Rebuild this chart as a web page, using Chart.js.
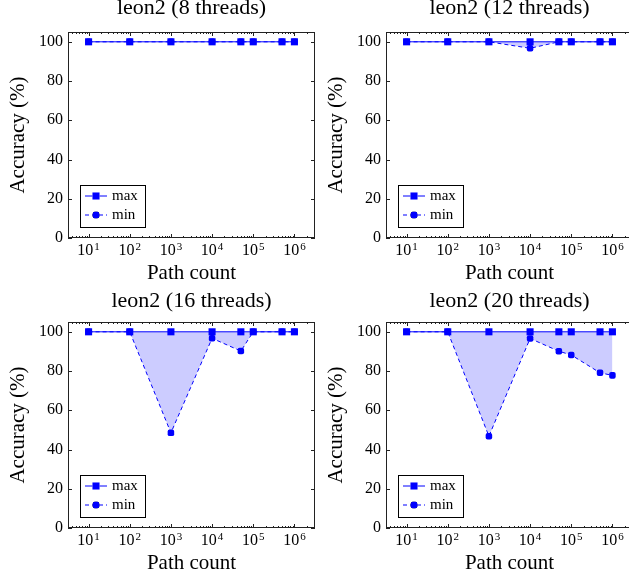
<!DOCTYPE html>
<html>
<head>
<meta charset="utf-8">
<script src="https://cdn.jsdelivr.net/npm/chart.js@4.4.1/dist/chart.umd.min.js"></script>
<style>
  html, body { margin: 0; padding: 0; overflow: hidden; background: #fff; }
  body { width: 629px; height: 579px; position: relative; }
  .panel { position: absolute; width: 320px; height: 290px; }
</style>
</head>
<body>
<div class="panel" style="left:0;top:0"><canvas id="c8" width="320" height="290"></canvas></div>
<div class="panel" style="left:318px;top:0"><canvas id="c12" width="320" height="290"></canvas></div>
<div class="panel" style="left:0;top:290px"><canvas id="c16" width="320" height="290"></canvas></div>
<div class="panel" style="left:318px;top:290px"><canvas id="c20" width="320" height="290"></canvas></div>
<script>
// data
const pathCounts = [10, 100, 1000, 10000, 50000, 100000, 500000, 1000000];

const max8  = [100, 100, 100, 100, 100, 100, 100, 100];
const min8  = [100, 100, 100, 100, 100, 100, 100, 100];
const max12 = [100, 100, 100, 100, 100, 100, 100, 100];
const min12 = [100, 100, 100, 96.7, 100, 100, 100, 100];
const max16 = [100, 100, 100, 100, 100, 100, 100, 100];
const min16 = [100, 100, 48.5, 96.7, 90.2, 100, 100, 100];
const max20 = [100, 100, 100, 100, 100, 100, 100, 100];
const min20 = [100, 100, 46.8, 96.6, 90.1, 88.2, 79.1, 77.8];

const yTicks = [0, 20, 40, 60, 80, 100];
const xTicks = [10, 100, 1000, 10000, 100000, 1000000];
const xTickExp = ['1', '2', '3', '4', '5', '6'];

const BLUE = '#0000ff';
const FILL = 'rgba(0, 0, 255, 0.2)';
const AXIS = '#222';
const FONT = "'Liberation Serif', 'Times New Roman', serif";

Chart.defaults.color = '#000';
Chart.defaults.font.family = FONT;

// pgfplots-like frame: box, inward ticks, 10^n labels, legend inside
const pgfFrame = {
  id: 'pgfFrame',
  afterDraw(chart) {
    const { ctx, chartArea: a, scales: { x, y } } = chart;
    ctx.save();
    ctx.strokeStyle = AXIS;
    ctx.lineWidth = 1;
    ctx.strokeRect(a.left + 0.5, a.top + 0.5, a.right - a.left - 1, a.bottom - a.top - 1);

    ctx.beginPath();
    yTicks.forEach(v => {
      const py = Math.round(y.getPixelForValue(v)) + 0.5;
      ctx.moveTo(a.left, py); ctx.lineTo(a.left + 4, py);
      ctx.moveTo(a.right, py); ctx.lineTo(a.right - 4, py);
    });
    xTicks.forEach(v => {
      const px = Math.round(x.getPixelForValue(v)) + 0.5;
      ctx.moveTo(px, a.bottom); ctx.lineTo(px, a.bottom - 4);
      ctx.moveTo(px, a.top); ctx.lineTo(px, a.top + 4);
    });
    for (let e = 0; e <= 6; e++) {
      for (let k = 2; k <= 9; k++) {
        const v = k * Math.pow(10, e);
        if (v < x.min || v > x.max) continue;
        const px = Math.round(x.getPixelForValue(v)) + 0.5;
        ctx.moveTo(px, a.bottom); ctx.lineTo(px, a.bottom - 2);
        ctx.moveTo(px, a.top); ctx.lineTo(px, a.top + 2);
      }
    }
    ctx.stroke();

    // x tick labels with superscript exponents
    ctx.fillStyle = '#000';
    ctx.textBaseline = 'alphabetic';
    ctx.textAlign = 'left';
    xTicks.forEach((v, i) => {
      const px = x.getPixelForValue(v);
      ctx.font = '16px ' + FONT;
      const w1 = ctx.measureText('10').width;
      ctx.font = '11px ' + FONT;
      const w2 = ctx.measureText(xTickExp[i]).width;
      const start = px - (w1 + w2 + 1) / 2;
      ctx.font = '16px ' + FONT;
      ctx.fillText('10', start, a.bottom + 17);
      ctx.font = '11px ' + FONT;
      ctx.fillText(xTickExp[i], start + w1 + 1, a.bottom + 11.5);
    });

    // legend
    const bx = a.left + 12, bw = 66, bh = 43, by = a.bottom - 10 - bh;
    ctx.fillStyle = '#fff';
    ctx.fillRect(bx, by, bw, bh);
    ctx.strokeStyle = '#000';
    ctx.strokeRect(bx + 0.5, by + 0.5, bw - 1, bh - 1);
    chart.data.datasets.forEach((ds, i) => {
      const ry = by + 11 + i * 19;
      ctx.strokeStyle = BLUE;
      ctx.lineWidth = 1;
      ctx.setLineDash(ds.borderDash || []);
      ctx.beginPath();
      ctx.moveTo(bx + 5, ry); ctx.lineTo(bx + 27, ry);
      ctx.stroke();
      ctx.setLineDash([]);
      Chart.helpers.drawPoint(ctx, {
        pointStyle: ds.pointStyle, radius: ds.pointRadius, borderWidth: 0, rotation: 0
      }, bx + 16, ry);
      ctx.fillStyle = BLUE;
      ctx.fill();
      ctx.fillStyle = '#000';
      ctx.font = '15px ' + FONT;
      ctx.textBaseline = 'middle';
      ctx.fillText(ds.label, bx + 32, ry);
    });
    ctx.restore();
  }
};

function makeChart(id, title, maxVals, minVals, titleTop) {
  const ctx = document.getElementById(id).getContext('2d');
  return new Chart(ctx, {
    type: 'line',
    data: {
      datasets: [{
        label: 'max',
        data: pathCounts.map((p, i) => ({ x: p, y: maxVals[i] })),
        borderColor: BLUE,
        backgroundColor: FILL,
        borderWidth: 1,
        fill: '+1',
        pointStyle: 'rect',
        pointRadius: 5,
        pointBackgroundColor: BLUE,
        pointBorderWidth: 0
      }, {
        label: 'min',
        data: pathCounts.map((p, i) => ({ x: p, y: minVals[i] })),
        borderColor: BLUE,
        backgroundColor: FILL,
        borderWidth: 1,
        borderDash: [4, 3],
        fill: false,
        pointStyle: 'rectRounded',
        pointRadius: 3.8,
        pointBackgroundColor: BLUE,
        pointBorderWidth: 0
      }]
    },
    options: {
      responsive: false,
      animation: false,
      events: [],
      layout: { padding: { left: 0, right: 4, top: 0, bottom: 0 } },
      plugins: {
        legend: { display: false },
        tooltip: { enabled: false },
        title: {
          display: true,
          text: title,
          fullSize: false,
          color: '#000',
          font: { family: FONT, size: 22, weight: 'normal', lineHeight: '14px' },
          padding: { top: titleTop, bottom: 18 - titleTop }
        }
      },
      scales: {
        x: {
          type: 'logarithmic',
          min: Math.pow(10, 0.5),
          max: Math.pow(10, 6.5),
          afterBuildTicks: s => { s.ticks = xTicks.map(v => ({ value: v })); },
          afterFit: s => { s.height = 52; },
          grid: { display: false, drawTicks: false },
          border: { display: false },
          ticks: { display: false },
          title: {
            display: true,
            text: 'Path count',
            color: '#000',
            font: { family: FONT, size: 21 },
            padding: { top: 0, bottom: 4 }
          }
        },
        y: {
          min: 0,
          max: 105,
          afterBuildTicks: s => { s.ticks = yTicks.map(v => ({ value: v })); },
          afterFit: s => { s.width = 68; },
          grid: { display: false, drawTicks: false },
          border: { display: false },
          ticks: { padding: 5, color: '#000', font: { family: FONT, size: 16 } },
          title: {
            display: true,
            text: 'Accuracy (%)',
            color: '#000',
            font: { family: FONT, size: 21 },
            padding: { top: 5.8, bottom: 0 }
          }
        }
      }
    },
    plugins: [pgfFrame]
  });
}

makeChart('c8', 'leon2 (8 threads)', max8, min8, 1);
makeChart('c12', 'leon2 (12 threads)', max12, min12, 1);
makeChart('c16', 'leon2 (16 threads)', max16, min16, 4);
makeChart('c20', 'leon2 (20 threads)', max20, min20, 4);
</script>
</body>
</html>
